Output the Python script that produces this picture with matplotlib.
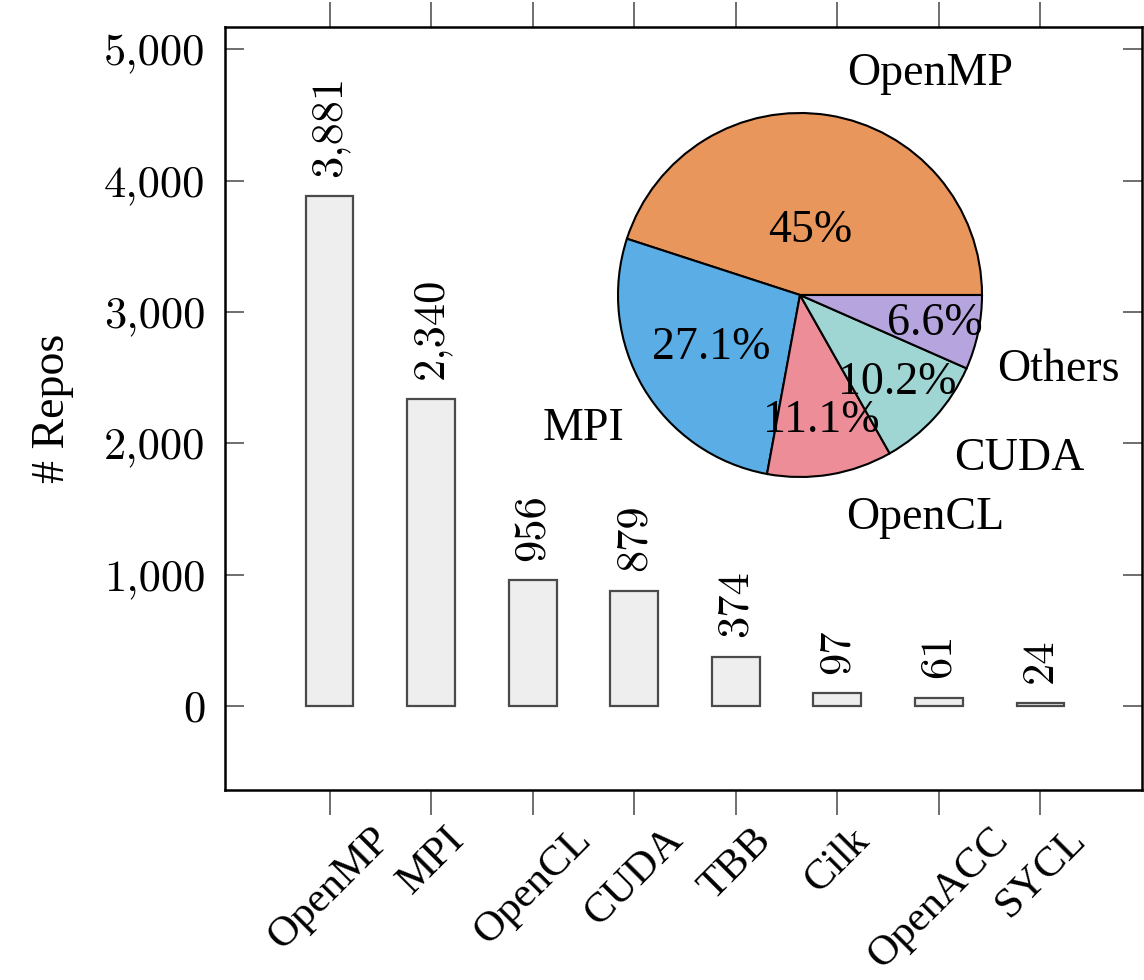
import matplotlib.pyplot as plt
import matplotlib.transforms as mtransforms
import numpy as np

# bar data
frameworks = ["OpenMP", "MPI", "OpenCL", "CUDA", "TBB", "Cilk", "OpenACC", "SYCL"]
repos = [3881, 2340, 956, 879, 374, 97, 61, 24]

# pie data
pie_labels = ["OpenMP", "MPI", "OpenCL", "CUDA", "Others"]
pie_share = [45.0, 27.1, 11.1, 10.2, 6.6]
pie_colors = ["#E8965C", "#5BADE5", "#EC8D97", "#9FD5D3", "#B6A4DE"]
pct_r = [0.36, 0.57, 0.70, 0.72, 0.76]
# small nudges (px) for the outer labels
lab_dx = [13, 12, 10, -8, -17]
lab_dy = [6, -22, -7, -17, -30]

serif = ["Liberation Serif", "DejaVu Serif"]
num_font = ["cmr10", "DejaVu Serif"]
fs = 33
num_fs = 32

fig = plt.figure(figsize=(11.44, 9.8), dpi=100)
ax = fig.add_axes([0.1967, 0.1939, 0.8015, 0.7785])

x = np.arange(len(frameworks))
ax.bar(x, repos, width=0.47, color="#EEEEEE", edgecolor="#4a4a4a", linewidth=1.6, zorder=2)
for xi, v in zip(x, repos):
    ax.annotate(f"{v:,}", (xi, v), xytext=(0, 14), textcoords="offset points",
                rotation=90, ha="center", va="bottom", fontsize=num_fs, family=num_font)

ax.set_xlim(-1.03, 8.0)
ax.set_ylim(-640, 5170)
yt = [0, 1000, 2000, 3000, 4000, 5000]
ax.set_yticks(yt)
ax.set_yticklabels([f"{t:,}" for t in yt], family=num_font, fontsize=num_fs)
ax.set_xticks(x)
ax.set_xticklabels(frameworks, rotation=45, ha="center", va="top", family=serif, fontsize=31)
ax.tick_params(axis="y", direction="in", length=14, width=1.2, color="#555555",
               right=True, pad=14)
ax.tick_params(axis="x", direction="out", length=18, width=1.2, color="#555555",
               top=True, pad=4)
for s in ax.spines.values():
    s.set_linewidth(1.8)
ax.set_ylabel("# Repos", family=serif, fontsize=fs, labelpad=22)

# pie inset
r_px = 182
cx, cy = 800, 295
pax = fig.add_axes([(cx - r_px) / 1144, (980 - cy - r_px) / 980, 2 * r_px / 1144, 2 * r_px / 980])
wedges, texts, autotexts = pax.pie(pie_share, labels=pie_labels, colors=pie_colors, startangle=0,
                                   counterclock=True, labeldistance=1.2, autopct="%s",
                                   wedgeprops=dict(edgecolor="black", linewidth=1.5),
                                   textprops=dict(family=serif, fontsize=fs))
for w, t, share, d in zip(wedges, autotexts, pie_share, pct_r):
    ang = np.deg2rad((w.theta1 + w.theta2) / 2)
    t.set_position((d * np.cos(ang), d * np.sin(ang)))
    t.set_text(f"{share:g}%")
for t, dx, dy in zip(texts, lab_dx, lab_dy):
    t.set_transform(pax.transData + mtransforms.ScaledTranslation(dx / 100, dy / 100, fig.dpi_scale_trans))
pax.set_xlim(-1, 1)
pax.set_ylim(-1, 1)
pax.set_aspect("equal")

fig.savefig("out.png", dpi=100)
